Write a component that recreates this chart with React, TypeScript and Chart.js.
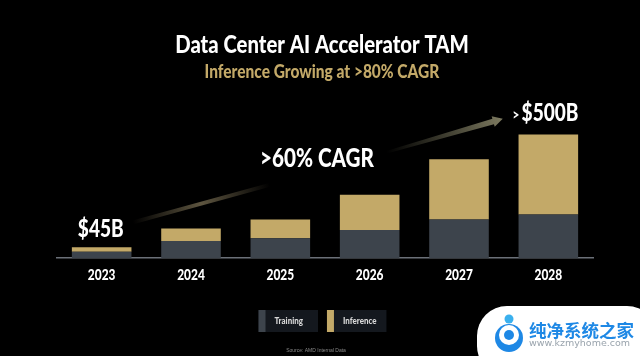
import React, { useEffect, useRef } from "react";
import { Chart, registerables } from "chart.js";

Chart.register(...registerables);

const years = ["2023", "2024", "2025", "2026", "2027", "2028"];
const training = [25, 69, 80, 113, 156, 176];
const inference = [19, 50, 76, 143, 244, 324];
const TITLE = "Data Center AI Accelerator TAM";
const SUBTITLE = "Inference Growing at >80% CAGR";
const SOURCE = "Source: AMD Internal Data";
const WM_CN = "纯净系统之家";
const WM_URL = "www.kzmyhome.com";
const FONT = 'Lato, sans-serif';
const NARROW = 0.795;
const GOLD = "#c3a968";
const SLATE = "#3d444c";

// The reference uses a condensed face: narrow the installed one horizontally.
function condense(ctx: any) {
  const fill = ctx.fillText.bind(ctx);
  const measure = ctx.measureText.bind(ctx);
  ctx.plainFillText = fill;
  ctx.fillText = (t: string, x: number, y: number, m?: number) => {
    ctx.save();
    ctx.translate(x, y);
    ctx.scale(NARROW, 1);
    if (m === undefined) fill(t, 0, 0);
    else fill(t, 0, 0, m / NARROW);
    ctx.restore();
  };
  ctx.measureText = (t: string) => ({ width: measure(t).width * NARROW });
}

const overlay = {
  id: "overlay",
  afterLayout(chart: any) {
    chart.boxes.forEach((b: any) => {
      if (b.options && typeof b.options.text === "string") {
        b.left -= 3;
        b.right -= 3;
      }
    });
    const lg = chart.legend;
    lg.top -= 6;
    lg.bottom -= 6;
    lg.left -= 7.5;
    lg.right -= 7.5;
  },
  beforeDatasetsDraw(chart: any) {
    const { ctx, scales } = chart;
    const X = (v: number) => scales.x.getPixelForValue(v);
    const Y = (v: number) => scales.y.getPixelForValue(v);
    ctx.save();
    const x0 = X(0.35), y0 = Y(144), x1 = X(1.88), y1 = Y(296);
    const g1 = ctx.createLinearGradient(x0, y0, x1, y1);
    g1.addColorStop(0, "rgba(110,100,75,0)");
    g1.addColorStop(0.5, "rgba(110,100,75,0.85)");
    g1.addColorStop(1, "rgba(110,100,75,0)");
    ctx.strokeStyle = g1;
    ctx.lineWidth = 4;
    ctx.beginPath();
    ctx.moveTo(x0, y0);
    ctx.lineTo(x1, y1);
    ctx.stroke();
    const x2 = X(3.19), y2 = Y(428), x3 = X(4.49), y3 = Y(564);
    const a = Math.atan2(y3 - y2, x3 - x2);
    const len = Math.hypot(x3 - x2, y3 - y2);
    ctx.translate(x2, y2);
    ctx.rotate(a);
    const g3 = ctx.createLinearGradient(0, 0, len, 0);
    g3.addColorStop(0, "rgba(120,118,92,0)");
    g3.addColorStop(1, "rgba(125,122,96,1)");
    ctx.fillStyle = g3;
    ctx.beginPath();
    ctx.moveTo(0, -1.2);
    ctx.lineTo(len - 10, -2.8);
    ctx.lineTo(len - 10, -5.5);
    ctx.lineTo(len, 0);
    ctx.lineTo(len - 10, 5.5);
    ctx.lineTo(len - 10, 2.8);
    ctx.lineTo(0, 1.2);
    ctx.closePath();
    ctx.fill();
    ctx.restore();
  },
  afterDraw(chart: any) {
    const { ctx, scales } = chart;
    const X = (v: number) => scales.x.getPixelForValue(v);
    const Y = (v: number) => scales.y.getPixelForValue(v);
    ctx.save();
    ctx.textBaseline = "middle";
    ctx.textAlign = "center";
    ctx.fillStyle = "#ffffff";
    ctx.font = `900 24px ${FONT}`;
    ctx.fillText("$45B", X(-0.01), Y(116));
    ctx.font = `900 26px ${FONT}`;
    ctx.fillText(">60% CAGR", X(2.41), Y(404));
    ctx.textAlign = "left";
    const bx = X(4.6), by = Y(584);
    ctx.font = `900 15px ${FONT}`;
    ctx.fillText(">", bx, by + 1);
    ctx.font = `900 24px ${FONT}`;
    ctx.fillText("$500B", bx + 9, by);

    const plain = ctx.plainFillText;
    ctx.textAlign = "center";
    ctx.font = `5px "Liberation Sans", sans-serif`;
    ctx.fillStyle = "#8a8a8a";
    plain(SOURCE, 316, 351);

    ctx.fillStyle = "#ffffff";
    ctx.beginPath();
    ctx.roundRect(477, 306, 180, 70, 30);
    ctx.fill();
    ctx.fillStyle = "#1e88e5";
    ctx.beginPath();
    ctx.arc(509, 338, 14, 0, Math.PI * 2);
    ctx.fill();
    ctx.fillStyle = "#ffffff";
    ctx.beginPath();
    ctx.arc(509, 335, 10, 0, Math.PI * 2);
    ctx.fill();
    ctx.fillStyle = "#1e88e5";
    ctx.beginPath();
    ctx.arc(509, 335, 5, 0, Math.PI * 2);
    ctx.fill();
    ctx.fillStyle = "#3ab0ee";
    ctx.beginPath();
    ctx.arc(509, 319, 4.5, 0, Math.PI * 2);
    ctx.fill();
    ctx.textAlign = "left";
    ctx.fillStyle = "#1e88e5";
    ctx.font = `bold 17.5px "Noto Sans CJK SC", sans-serif`;
    plain(WM_CN, 529, 330);
    ctx.fillStyle = "#9aa4ad";
    ctx.font = `9.5px "DejaVu Sans", sans-serif`;
    plain(WM_URL, 529, 344);
    ctx.restore();
  },
  beforeDraw(chart: any) {
    const { ctx, legend, data } = chart;
    ctx.save();
    ctx.fillStyle = "#000000";
    ctx.fillRect(0, 0, chart.width, chart.height);
    (legend.legendHitBoxes || []).forEach((b: any, i: number) => {
      ctx.fillStyle = "#14181e";
      ctx.fillRect(b.left, b.top, 59.5, b.height);
      ctx.fillStyle = data.datasets[i].backgroundColor;
      ctx.fillRect(b.left, b.top, 7, b.height);
    });
    ctx.restore();
  },
};

export default function App() {
  const ref = useRef<HTMLCanvasElement>(null);
  useEffect(() => {
    condense(ref.current!.getContext("2d"));
    const chart = new Chart(ref.current!, {
      type: "bar",
      data: {
        labels: years,
        datasets: [
          { label: "Training", data: training, backgroundColor: SLATE, barPercentage: 0.667, categoryPercentage: 1, borderWidth: 0 },
          { label: "Inference", data: inference, backgroundColor: GOLD, barPercentage: 0.667, categoryPercentage: 1, borderWidth: 0 },
        ],
      },
      plugins: [overlay],
      options: {
        responsive: false,
        animation: false,
        layout: { padding: { top: 25, left: 57, right: 47, bottom: 8 } },
        scales: {
          x: {
            stacked: true,
            grid: { display: false, drawTicks: false },
            border: { color: "#6b7078", width: 1.5 },
            ticks: { color: "#ffffff", font: { family: FONT, size: 15, weight: 900 }, padding: 8, maxRotation: 0 },
          },
          y: { stacked: true, display: false, min: 0, max: 676 },
        },
        plugins: {
          title: {
            display: true,
            text: TITLE,
            color: "#ffffff",
            font: { family: FONT, size: 25.5, weight: 900 },
            padding: { top: 4, bottom: 0 },
          },
          subtitle: {
            display: true,
            text: SUBTITLE,
            color: GOLD,
            font: { family: FONT, size: 19.5, weight: 900 },
            padding: { top: 0, bottom: 8 },
          },
          tooltip: { enabled: false },
          legend: {
            display: true,
            position: "bottom",
            labels: {
              boxWidth: 11,
              boxHeight: 22,
              padding: 24,
              color: "#d8d8d8",
              font: { family: FONT, size: 10, weight: 900 },
              generateLabels: (c: any) =>
                c.data.datasets.map((d: any, i: number) => ({
                  text: d.label,
                  fillStyle: "rgba(0,0,0,0)",
                  strokeStyle: "rgba(0,0,0,0)",
                  lineWidth: 0,
                  fontColor: "#d8d8d8",
                  datasetIndex: i,
                })),
            },
          },
        },
      },
    } as any);
    return () => chart.destroy();
  }, []);
  return (
    <div style={{ position: "fixed", left: 0, top: 0, width: 640, height: 356, background: "#000" }}>
      <canvas ref={ref} width={640} height={356} style={{ display: "block" }} />
    </div>
  );
}
